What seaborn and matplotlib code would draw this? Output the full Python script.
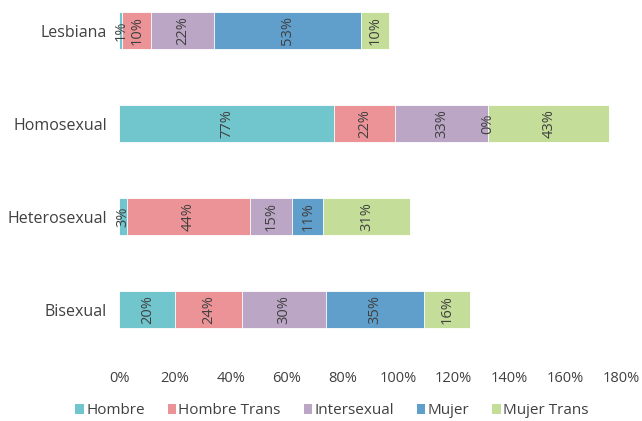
import numpy as np
import pandas as pd
import matplotlib
matplotlib.use("Agg")
import matplotlib.pyplot as plt
import seaborn as sns
from matplotlib.patches import Patch

# datos (porcentajes)
categorias = ["Lesbiana", "Homosexual", "Heterosexual", "Bisexual"]
series = ["Hombre", "Hombre Trans", "Intersexual", "Mujer", "Mujer Trans"]
hombre = [1.0, 77.1, 2.6, 20.0]
hombre_trans = [10.4, 21.9, 44.1, 24.0]
intersexual = [22.4, 33.4, 15.3, 30.0]
mujer = [52.8, 0.0, 11.2, 35.4]
mujer_trans = [10.3, 43.4, 31.2, 16.3]
xticks = [0, 20, 40, 60, 80, 100, 120, 140, 160, 180]

colores = ["#71C5CD", "#EC9398", "#BCA6C6", "#609FCB", "#C4DD98"]
gris = "#404040"

sns.set_style("white")
plt.rcParams["font.family"] = ["Open Sans", "DejaVu Sans"]

df = pd.DataFrame({"categoria": categorias, "Hombre": hombre, "Hombre Trans": hombre_trans,
                   "Intersexual": intersexual, "Mujer": mujer, "Mujer Trans": mujer_trans})
acum = df[series].cumsum(axis=1)

fig = plt.figure(figsize=(6.42, 4.21), dpi=100)
ax = fig.add_axes([0.1861, 0.1544, 0.7809, 0.8456])

# barras apiladas: se dibuja primero el acumulado total y encima los parciales
for s, c in reversed(list(zip(series, colores))):
    sns.barplot(x=acum[s], y=df["categoria"], order=categorias, color=c, saturation=1,
                width=0.4, edgecolor="white", linewidth=0.6, ax=ax, orient="h")

# etiquetas de porcentaje
for i, cat in enumerate(categorias):
    for s in series:
        v = df.loc[i, s]
        centro = acum.loc[i, s] - v / 2
        ax.text(centro, i, f"{v:.0f}%", rotation=90, ha="center", va="center",
                fontsize=10.5, color=gris)

ax.set_xlim(0, 180)
ax.set_ylim(3.5, -0.33)
ax.set_xticks(xticks)
ax.set_xticklabels([f"{t}%" for t in xticks])
ax.set_xlabel("")
ax.set_ylabel("")
ax.tick_params(axis="both", length=0, colors=gris)
ax.tick_params(axis="x", pad=11, labelsize=10.5)
ax.tick_params(axis="y", pad=9, labelsize=11.5)
sns.despine(ax=ax, left=True, bottom=True)

handles = [Patch(facecolor=c, edgecolor="none", label=s) for s, c in zip(series, colores)]
leg = fig.legend(handles=handles, loc="center", bbox_to_anchor=(332 / 642, 1 - 411 / 421),
                 ncol=5, frameon=False, fontsize=11, handlelength=0.55, handleheight=0.55,
                 handletextpad=0.15, columnspacing=1.5)
for t in leg.get_texts():
    t.set_color(gris)

plt.savefig("out.png", dpi=100)
